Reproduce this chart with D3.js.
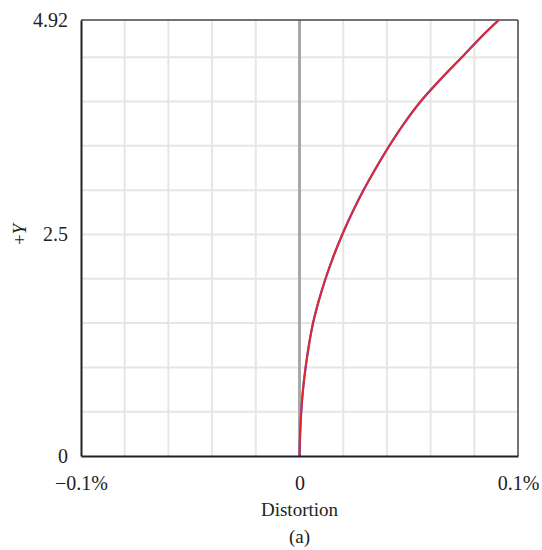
<!DOCTYPE html>
<html>
<head>
<meta charset="utf-8">
<script src="https://cdn.jsdelivr.net/npm/d3@7"></script>
<style>
  html, body { margin: 0; padding: 0; background: #fff; }
  svg { display: block; }
  text { font-family: "Liberation Serif", "Times New Roman", serif; fill: #222; }
</style>
</head>
<body>
<svg id="chart" width="542" height="550"></svg>
<script>
// ---- data ----
const yValues = [0, 0.25, 0.5, 0.75, 1.0, 1.25, 1.5, 1.75, 2.0, 2.25, 2.5, 2.75, 3.0, 3.25, 3.5, 3.75, 4.0, 4.25, 4.5, 4.75, 4.92];
// distortion in percent
const distortionRed  = [0, 0.0003, 0.0008, 0.0016, 0.0028, 0.0043, 0.0062, 0.0088, 0.0119, 0.0155, 0.0196, 0.0242, 0.0293, 0.0350, 0.0411, 0.0478, 0.0554, 0.0645, 0.0743, 0.0840, 0.0912];
const distortionBlue = [0, 0.0003, 0.0008, 0.0016, 0.0028, 0.0043, 0.0062, 0.0088, 0.0119, 0.0155, 0.0196, 0.0242, 0.0293, 0.0350, 0.0411, 0.0478, 0.0554, 0.0645, 0.0743, 0.0840, 0.0912];
const xTickValues = [-0.1, 0, 0.1];
const xTickLabels = ["\u22120.1%", "0", "0.1%"];
const yTickValues = [0, 2.5, 4.92];
const yTickLabels = ["0", "2.5", "4.92"];
const xGridValues = [-0.08, -0.06, -0.04, -0.02, 0.02, 0.04, 0.06, 0.08];
const yGridValues = [0.5, 1.0, 1.5, 2.0, 2.5, 3.0, 3.5, 4.0, 4.5];

// ---- layout ----
const margin = { left: 81, right: 24, top: 20, bottom: 94 };
const W = 542, H = 550;
const svg = d3.select("#chart");
const x = d3.scaleLinear().domain([-0.1, 0.1]).range([margin.left, W - margin.right]);
const y = d3.scaleLinear().domain([0, 4.92]).range([H - margin.bottom, margin.top]);

// grid
svg.append("g").selectAll("line").data(xGridValues).join("line")
  .attr("x1", d => x(d)).attr("x2", d => x(d))
  .attr("y1", y(0)).attr("y2", y(4.92))
  .attr("stroke", "#e6e6e6").attr("stroke-width", 2);
svg.append("g").selectAll("line").data(yGridValues).join("line")
  .attr("y1", d => y(d)).attr("y2", d => y(d))
  .attr("x1", x(-0.1)).attr("x2", x(0.1))
  .attr("stroke", "#e6e6e6").attr("stroke-width", 2);

// zero line
svg.append("line")
  .attr("x1", x(0)).attr("x2", x(0)).attr("y1", y(0)).attr("y2", y(4.92))
  .attr("stroke", "#a8a8a8").attr("stroke-width", 3);

// frame top/right
svg.append("line").attr("x1", x(-0.1)).attr("x2", x(0.1)).attr("y1", y(4.92)).attr("y2", y(4.92))
  .attr("stroke", "#444").attr("stroke-width", 1.5);
svg.append("line").attr("x1", x(0.1)).attr("x2", x(0.1)).attr("y1", y(0)).attr("y2", y(4.92))
  .attr("stroke", "#444").attr("stroke-width", 1.5);

// curves
const lineGen = d3.line().x(d => x(d[0])).y(d => y(d[1])).curve(d3.curveCatmullRom.alpha(0.5));
svg.append("path").datum(distortionBlue.map((v, i) => [v, yValues[i]]))
  .attr("d", lineGen).attr("fill", "none").attr("stroke", "#5a5ad0").attr("stroke-width", 2.3);
svg.append("path").datum(distortionRed.map((v, i) => [v, yValues[i]]))
  .attr("d", lineGen).attr("fill", "none").attr("stroke", "#e5262a").attr("stroke-width", 1.9);

// axes
const xAxis = d3.axisBottom(x).tickValues(xTickValues).tickFormat((d, i) => xTickLabels[i]).tickSize(0).tickPadding(20);
const gx = svg.append("g").attr("transform", `translate(0,${y(0)})`).call(xAxis);
gx.select(".domain").attr("stroke", "#222").attr("stroke-width", 2);
gx.selectAll("text").style("font-size", "20px").style("font-family", "Liberation Serif").attr("fill", "#222");

const yAxis = d3.axisLeft(y).tickValues(yTickValues).tickFormat((d, i) => yTickLabels[i]).tickSize(0).tickPadding(13);
const gy = svg.append("g").attr("transform", `translate(${x(-0.1)},0)`).call(yAxis);
gy.select(".domain").attr("stroke", "#222").attr("stroke-width", 2);
gy.selectAll("text").style("font-size", "20px").style("font-family", "Liberation Serif").attr("fill", "#222");

// axis titles
svg.append("text").attr("x", x(0)).attr("y", 516).attr("text-anchor", "middle")
  .style("font-size", "19px").text("Distortion");
svg.append("text").attr("x", x(0)).attr("y", 543).attr("text-anchor", "middle")
  .style("font-size", "19px").text("(a)");
const yl = svg.append("text").attr("transform", `translate(26,${y(2.5)}) rotate(-90)`)
  .attr("text-anchor", "middle").style("font-size", "19px");
yl.append("tspan").text("+");
yl.append("tspan").attr("font-style", "italic").text("Y");
</script>
</body>
</html>
